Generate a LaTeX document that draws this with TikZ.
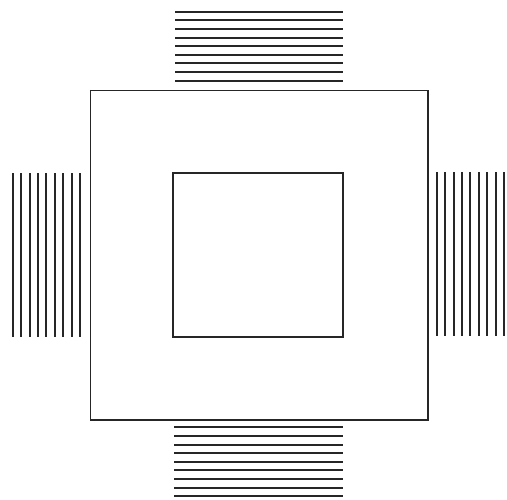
\documentclass[tikz,border=0pt]{standalone}
\begin{document}
\begin{tikzpicture}[x=1pt,y=-1pt,
  frame/.style={line width=1.5pt,black!85},
  hatch/.style={line width=2pt,black!85}]
\useasboundingbox (0,0) rectangle (507,499);
% outer and inner squares
\draw[frame] (90.5,90.5) rectangle (428,420);
\draw[frame] (173,173) rectangle (343,337);
% top hatching
\foreach \i in {0,...,8} \draw[hatch] (175,{11.7+8.625*\i}) -- (343,{11.7+8.625*\i});
% bottom hatching
\foreach \i in {0,...,8} \draw[hatch] (174,{427.3+8.625*\i}) -- (343,{427.3+8.625*\i});
% left hatching
\foreach \i in {0,...,8} \draw[hatch] ({12.7+8.42*\i},173) -- ({12.7+8.42*\i},337);
% right hatching
\foreach \i in {0,...,8} \draw[hatch] ({436.7+8.42*\i},172) -- ({436.7+8.42*\i},336);
\end{tikzpicture}
\end{document}
